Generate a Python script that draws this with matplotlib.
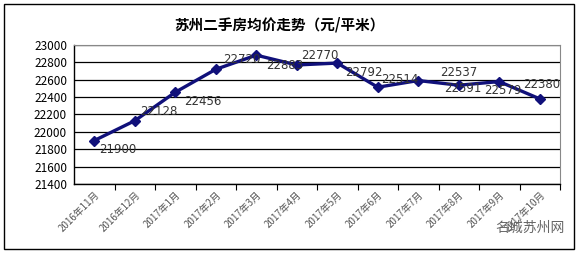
import matplotlib.pyplot as plt
from matplotlib.patches import Rectangle
import numpy as np

plt.rcParams['font.family'] = ['Noto Sans CJK SC', 'DejaVu Sans']

months = ['2016年11月', '2016年12月', '2017年1月', '2017年2月', '2017年3月', '2017年4月',
          '2017年5月', '2017年6月', '2017年7月', '2017年8月', '2017年9月', '2017年10月']
prices = [21900, 22128, 22456, 22720, 22883, 22770, 22792, 22514, 22591, 22537, 22579, 22380]
label_text = ['21900', '22128', '22456', '22720', '22883', '22770',
              '22792', '22514', '22591', '22537', '22579', '22380']
# label offsets in pixels (dx right, dy down) as placed in the original chart
label_offsets = [(24, 9), (24, -9), (28, 9), (26, -10), (28, 10), (23, -9),
                 (27, 9), (22, -8), (45, 8), (0, -13), (4, 9), (2, -14)]

W, H = 580, 256
fig = plt.figure(figsize=(W / 100, H / 100), dpi=100)
fig.patch.set_facecolor('white')

# outer chart border
fig.add_artist(Rectangle((4 / W, 1 - 249 / H), 570 / W, 245 / H, transform=fig.transFigure,
                         fill=False, edgecolor='black', linewidth=1))

ax = fig.add_axes([74 / W, 1 - 184 / H, 486 / W, 139 / H])
x = np.arange(len(months))
ax.plot(x, prices, color='#10107a', linewidth=2.4, marker='D', markersize=5, zorder=3)

ax.set_xlim(-0.5, len(months) - 0.5)
ax.set_ylim(21400, 23000)
ax.set_yticks(np.arange(21400, 23001, 200))
ax.yaxis.grid(True, color='black', linewidth=0.9)
ax.set_axisbelow(True)
ax.tick_params(axis='y', length=0, labelsize=8.5, pad=5)

ax.set_xticks(x)
ax.set_xticklabels(months, rotation=45, ha='right', rotation_mode='anchor',
                   fontsize=7, color='#555555')
ax.tick_params(axis='x', which='major', length=0, pad=4)
ax.set_xticks(np.arange(0.5, len(months)), minor=True)
ax.tick_params(axis='x', which='minor', length=4, direction='out', width=0.8)

for s in ['left', 'bottom']:
    ax.spines[s].set_color('black')
    ax.spines[s].set_linewidth(1)
for s in ['top', 'right']:
    ax.spines[s].set_color('#888888')
    ax.spines[s].set_linewidth(0.8)

for xi, yi, t, (dx, dy) in zip(x, prices, label_text, label_offsets):
    ax.annotate(t, (xi, yi), xytext=(dx * 0.72, -dy * 0.72), textcoords='offset points',
                ha='center', va='center', fontsize=8.5, color='#333333',
                family='DejaVu Sans')

fig.text(279 / W, 1 - 24 / H, '苏州二手房均价走势（元/平米）', ha='center', va='center',
         fontsize=10.5, fontweight='bold')

fig.text(530 / W, 1 - 228 / H, '名城苏州网', ha='center', va='center',
         fontsize=10, color='#666666')

fig.savefig('out.png', dpi=100)
